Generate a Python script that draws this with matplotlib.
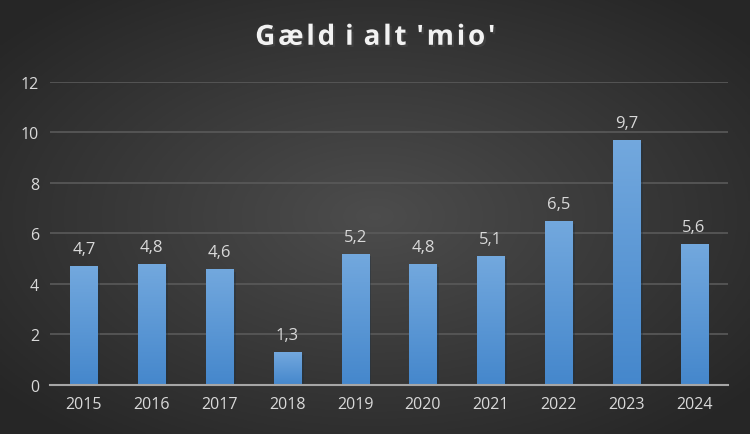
import numpy as np
import matplotlib.pyplot as plt
import matplotlib.patheffects as pe

years = ['2015', '2016', '2017', '2018', '2019', '2020', '2021', '2022', '2023', '2024']
values = [4.7, 4.8, 4.6, 1.3, 5.2, 4.8, 5.1, 6.5, 9.7, 5.6]
labels = ['4,7', '4,8', '4,6', '1,3', '5,2', '4,8', '5,1', '6,5', '9,7', '5,6']
yticks = [0, 2, 4, 6, 8, 10, 12]

plt.rcParams['font.family'] = ['Open Sans', 'DejaVu Sans']

fig = plt.figure(figsize=(7.5, 4.35), dpi=100)

# radial background, lighter in the middle
bg = fig.add_axes([0, 0, 1, 1], zorder=-10)
gx, gy = np.meshgrid(np.linspace(-1, 1, 300), np.linspace(-1, 1, 200))
r = np.clip(np.sqrt(gx**2 + gy**2) / 1.3, 0, 1)
shade = 0.30 - 0.15 * r
bg.imshow(np.dstack([shade, shade, shade]), aspect='auto', extent=[0, 1, 0, 1])
bg.axis('off')

ax = fig.add_axes([0.0667, 0.1126, 0.904, 0.697])
ax.patch.set_alpha(0)
x = np.arange(len(years))
bars = ax.bar(x, values, width=0.4, color='#5b9bd5', zorder=3,
              path_effects=[pe.SimplePatchShadow(offset=(2, -2), alpha=0.35), pe.Normal()])

# vertical gradient on each bar
grad = np.linspace(0, 1, 100).reshape(-1, 1)
top = np.array([0.45, 0.66, 0.87])
bot = np.array([0.27, 0.53, 0.80])
gimg = (bot + (top - bot) * grad[:, :, None]).reshape(100, 1, 3)
for b in bars:
    im = ax.imshow(gimg, origin='lower', aspect='auto', zorder=4,
                   extent=[b.get_x(), b.get_x() + b.get_width(), 0, b.get_height()])
    im.set_clip_path(b)

for xi, v, lab in zip(x, values, labels):
    ax.text(xi, v + 0.35, lab, ha='center', va='bottom', color='#d9d9d9', fontsize=12)

ax.set_xlim(-0.5, len(years) - 0.5)
ax.set_ylim(0, 12)
ax.set_yticks(yticks)
ax.set_xticks(x)
ax.set_xticklabels(years)
ax.tick_params(colors='#d9d9d9', labelsize=11.5, length=0, pad=8)
ax.yaxis.grid(True, color='#5a5a5a', linewidth=1.2, zorder=0)
for s in ['top', 'right', 'left']:
    ax.spines[s].set_visible(False)
ax.spines['bottom'].set_color('#a6a6a6')
ax.spines['bottom'].set_linewidth(1.5)
ax.spines['bottom'].set_zorder(5)

# title with a bit of letter spacing (hair spaces)
fig.text(0.5, 0.912, "G\u200aæ\u200al\u200ad \u200ai \u200aa\u200al\u200at \u200a'\u200am\u200ai\u200ao\u200a'",
         ha='center', va='center', color='#f2f2f2', fontsize=20, fontweight='bold',
         path_effects=[pe.withSimplePatchShadow(offset=(1.5, -1.5), alpha=0.6)])

fig.savefig('out.png', dpi=100)
